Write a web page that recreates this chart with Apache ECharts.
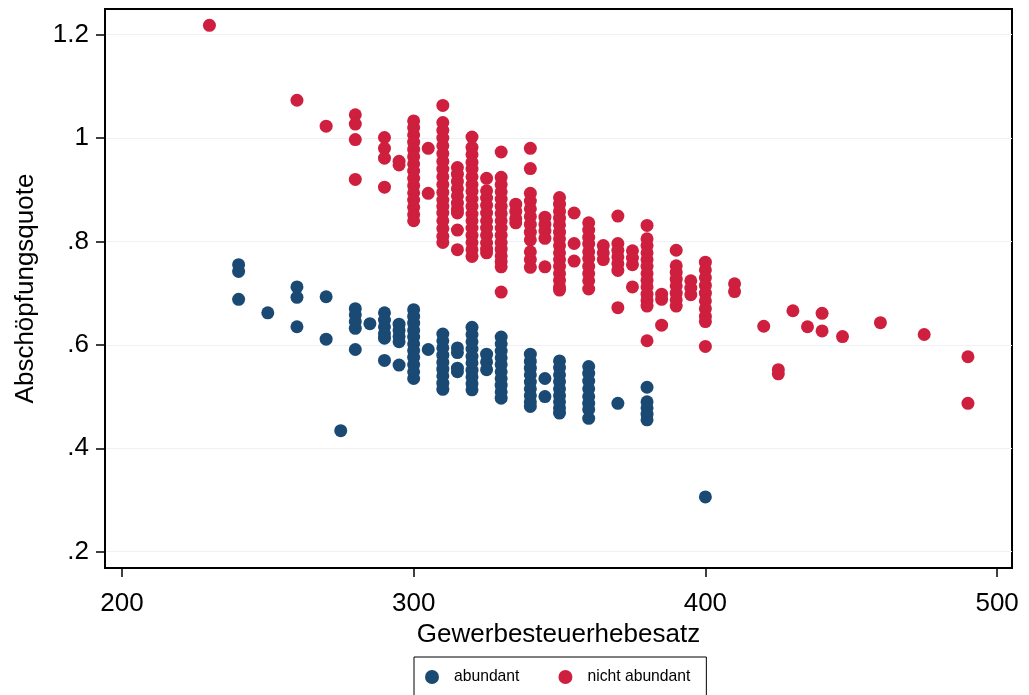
<!DOCTYPE html>
<html>
<head>
<meta charset="utf-8">
<script src="https://cdn.jsdelivr.net/npm/echarts@6/dist/echarts.min.js"></script>
<style>
html,body{margin:0;padding:0;background:#fff;}
#chart{width:1029px;height:695px;}
</style>
</head>
<body>
<div id="chart"></div>
<script>
// Data: [Gewerbesteuerhebesatz, Abschöpfungsquote]
var abundant = [
  [240,0.755],[240,0.742],[240,0.688],
  [250,0.662],
  [260,0.712],[260,0.692],[260,0.635],
  [270,0.693],[270,0.611],
  [275,0.434],
  [280,0.670],[280,0.658],[280,0.645],[280,0.632],[280,0.591],
  [285,0.641],
  [290,0.662],[290,0.648],[290,0.635],[290,0.622],[290,0.613],[290,0.570],
  [295,0.640],[295,0.628],[295,0.616],[295,0.606],[295,0.561],
  [300,0.668],[300,0.655],[300,0.642],[300,0.628],[300,0.615],[300,0.602],[300,0.589],[300,0.576],[300,0.562],[300,0.548],[300,0.535],
  [305,0.591],
  [310,0.621],[310,0.608],[310,0.594],[310,0.580],[310,0.566],[310,0.553],[310,0.540],[310,0.526],[310,0.514],
  [315,0.594],[315,0.585],[315,0.555],[315,0.548],
  [320,0.634],[320,0.620],[320,0.606],[320,0.592],[320,0.578],[320,0.565],[320,0.551],[320,0.538],[320,0.525],[320,0.513],
  [325,0.582],[325,0.567],[325,0.552],
  [330,0.615],[330,0.602],[330,0.588],[330,0.575],[330,0.562],[330,0.548],[330,0.535],[330,0.522],[330,0.509],[330,0.497],
  [340,0.582],[340,0.568],[340,0.555],[340,0.542],[340,0.528],[340,0.515],[340,0.502],[340,0.490],[340,0.481],
  [345,0.535],[345,0.500],
  [350,0.569],[350,0.556],[350,0.542],[350,0.529],[350,0.515],[350,0.502],[350,0.490],[350,0.478],[350,0.468],
  [360,0.558],[360,0.545],[360,0.530],[360,0.515],[360,0.500],[360,0.487],[360,0.475],[360,0.458],
  [370,0.487],
  [380,0.518],[380,0.490],[380,0.478],[380,0.466],[380,0.455],
  [400,0.306]
];
var nichtAbundant = [
  [230,1.218],
  [260,1.073],
  [270,1.023],
  [280,1.045],[280,1.027],[280,0.997],[280,0.920],
  [290,1.001],[290,0.980],[290,0.961],[290,0.905],
  [295,0.955],[295,0.948],
  [300,1.033],[300,1.020],[300,1.006],[300,0.992],[300,0.978],[300,0.964],[300,0.950],[300,0.936],[300,0.922],[300,0.908],[300,0.894],[300,0.880],[300,0.866],[300,0.852],[300,0.840],
  [305,0.980],[305,0.893],
  [310,1.063],[310,1.030],[310,1.015],[310,1.000],[310,0.985],[310,0.970],[310,0.955],[310,0.940],[310,0.925],[310,0.910],[310,0.895],[310,0.880],[310,0.868],[310,0.855],[310,0.840],[310,0.825],[310,0.810],[310,0.798],
  [315,0.943],[315,0.930],[315,0.916],[315,0.902],[315,0.888],[315,0.874],[315,0.862],[315,0.855],[315,0.822],[315,0.784],
  [320,1.002],[320,0.982],[320,0.968],[320,0.953],[320,0.940],[320,0.925],[320,0.910],[320,0.897],[320,0.882],[320,0.868],[320,0.853],[320,0.840],[320,0.826],[320,0.812],[320,0.798],[320,0.784],[320,0.771],
  [325,0.922],[325,0.898],[325,0.884],[325,0.870],[325,0.855],[325,0.840],[325,0.826],[325,0.812],[325,0.797],[325,0.785],[325,0.778],
  [330,0.973],[330,0.924],[330,0.910],[330,0.896],[330,0.882],[330,0.868],[330,0.854],[330,0.840],[330,0.826],[330,0.812],[330,0.798],[330,0.785],[330,0.772],[330,0.761],[330,0.751],[330,0.702],
  [335,0.872],[335,0.858],[335,0.844],[335,0.836],
  [340,0.980],[340,0.941],[340,0.893],[340,0.878],[340,0.863],[340,0.848],[340,0.833],[340,0.818],[340,0.803],[340,0.780],[340,0.765],[340,0.750],
  [345,0.847],[345,0.833],[345,0.820],[345,0.806],[345,0.751],
  [350,0.885],[350,0.872],[350,0.858],[350,0.845],[350,0.832],[350,0.818],[350,0.805],[350,0.792],[350,0.778],[350,0.765],[350,0.752],[350,0.738],[350,0.725],[350,0.712],[350,0.706],
  [355,0.855],[355,0.796],[355,0.762],
  [360,0.836],[360,0.822],[360,0.808],[360,0.795],[360,0.780],[360,0.767],[360,0.752],[360,0.738],[360,0.724],[360,0.708],
  [365,0.792],[365,0.778],[365,0.765],
  [370,0.849],[370,0.796],[370,0.783],[370,0.770],[370,0.757],[370,0.744],[370,0.672],
  [375,0.782],[375,0.768],[375,0.755],[375,0.712],
  [380,0.831],[380,0.805],[380,0.792],[380,0.778],[380,0.765],[380,0.752],[380,0.738],[380,0.725],[380,0.712],[380,0.698],[380,0.686],[380,0.675],[380,0.608],
  [385,0.698],[385,0.688],[385,0.638],
  [390,0.783],[390,0.753],[390,0.740],[390,0.727],[390,0.714],[390,0.700],[390,0.687],[390,0.675],
  [395,0.724],[395,0.710],[395,0.697],
  [400,0.760],[400,0.745],[400,0.730],[400,0.715],[400,0.700],[400,0.685],[400,0.670],[400,0.655],[400,0.645],[400,0.597],
  [410,0.718],[410,0.703],
  [420,0.636],
  [425,0.552],[425,0.544],
  [430,0.666],
  [435,0.635],
  [440,0.661],[440,0.627],
  [447,0.616],
  [460,0.643],
  [475,0.620],
  [490,0.577],[490,0.487]
];
var xTicks = [200, 300, 400, 500];
var yTicks = [0.2, 0.4, 0.6, 0.8, 1, 1.2];
var seriesNames = ['abundant', 'nicht abundant'];

var FONT = '"Liberation Sans", Arial, sans-serif';
var chart = echarts.init(document.getElementById('chart'), null, {renderer: 'canvas'});
chart.setOption({
  backgroundColor: '#fff',
  animation: false,
  grid: {left: 105, right: 17, top: 9, bottom: 127, show: true, borderColor: '#000', borderWidth: 2, backgroundColor: '#fff'},
  xAxis: {
    type: 'value', min: 194.2, max: 505.1,
    name: 'Gewerbesteuerhebesatz', nameLocation: 'middle', nameGap: 45,
    nameTextStyle: {fontFamily: FONT, fontSize: 26, color: '#000'},
    axisLine: {show: true, onZero: false, lineStyle: {color: '#000', width: 2}},
    axisTick: {show: true, length: 9, lineStyle: {color: '#000', width: 1.5}, customValues: xTicks},
    axisLabel: {fontFamily: FONT, fontSize: 26, color: '#000', margin: 23, customValues: xTicks},
    splitLine: {show: false}
  },
  yAxis: {
    type: 'value', min: 0.1685, max: 1.2495,
    name: 'Abschöpfungsquote', nameLocation: 'middle', nameGap: 66,
    nameTextStyle: {fontFamily: FONT, fontSize: 26, color: '#000'},
    axisLine: {show: true, onZero: false, lineStyle: {color: '#000', width: 2}},
    axisTick: {show: true, length: 9, lineStyle: {color: '#000', width: 1.5}, customValues: yTicks},
    axisLabel: {fontFamily: FONT, fontSize: 26, color: '#000', margin: 16, customValues: yTicks,
      formatter: function (v) { var s = String(+v.toFixed(2)); return s.replace(/^0\./, '.'); }},
    splitLine: {show: true, lineStyle: {color: '#eef2f6', width: 1}}
  },
  legend: {
    data: seriesNames,
    left: 414, top: 657,
    orient: 'horizontal',
    borderColor: '#000', borderWidth: 1,
    padding: [12, 16, 12, 11],
    itemWidth: 14, itemHeight: 14, itemGap: 39,
    icon: 'circle',
    textStyle: {fontFamily: FONT, fontSize: 15.7, color: '#000', padding: [0, 0, 0, 10]}
  },
  series: [
    {name: seriesNames[0], type: 'scatter', data: abundant, symbol: 'circle', symbolSize: 13,
     itemStyle: {color: '#1a4a74', opacity: 1}},
    {name: seriesNames[1], type: 'scatter', data: nichtAbundant, symbol: 'circle', symbolSize: 13,
     itemStyle: {color: '#cf1f3e', opacity: 1}}
  ]
});
</script>
</body>
</html>
